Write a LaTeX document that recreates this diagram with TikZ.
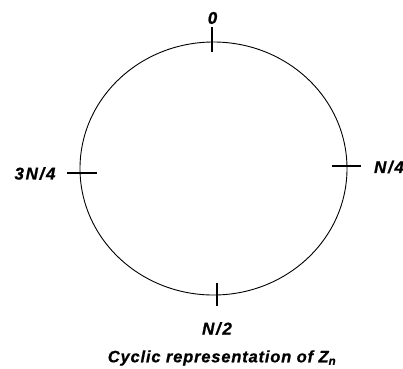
\documentclass[tikz,border=0pt]{standalone}
\usepackage{fontspec}
\setmainfont{Liberation Sans}
\newfontfamily\lblfont[LetterSpace=10,BoldItalicFeatures={FakeBold=0.8}]{Liberation Sans}
\newfontfamily\capfont[LetterSpace=5,BoldItalicFeatures={FakeBold=0.8}]{Liberation Sans}
\begin{document}
\begin{tikzpicture}[x=1pt,y=-1pt,
  lbl/.style={font=\lblfont\fontsize{17}{19}\selectfont\bfseries\itshape, inner sep=0pt},
  captxt/.style={font=\capfont\fontsize{16.5}{19}\selectfont\bfseries\itshape, inner sep=0pt},
  tick/.style={line width=1.8pt},
  ring/.style={line width=0.9pt}]
\useasboundingbox (0,0) rectangle (403,368);
\draw[ring] (213.5,168.5) ellipse [x radius=133.5, y radius=126.5];
\coordinate (t1) at (212,27); \coordinate (t2) at (212,52);
\coordinate (r1) at (332,166); \coordinate (r2) at (361,166);
\coordinate (l1) at (67,173); \coordinate (l2) at (97,173);
\coordinate (b1) at (217,283); \coordinate (b2) at (217,306);
\draw[tick] (t1) -- (t2);
\draw[tick] (r1) -- (r2);
\draw[tick] (l1) -- (l2);
\draw[tick] (b1) -- (b2);
\node[lbl] (n0) at (212.5,18) {0};
\node[lbl] (n1) at (389,167) {N/4};
\node[lbl] (n3) at (35,173.5) {3N/4};
\node[lbl] (n2) at (217,328.5) {N/2};
\node[captxt] (cap) at (222,358) {Cyclic representation of Z\textsubscript{n}};
\end{tikzpicture}
\end{document}
